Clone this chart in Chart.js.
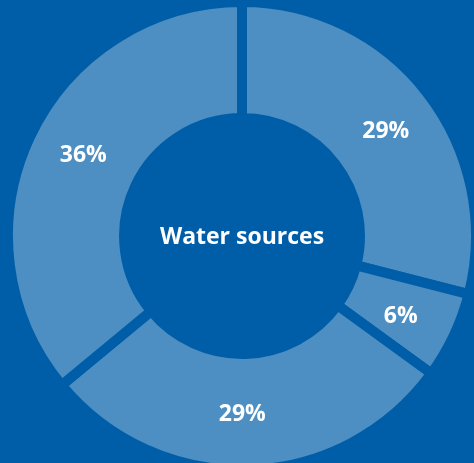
<!DOCTYPE html>
<html>
<head>
<meta charset="utf-8">
<style>
  html, body { margin: 0; padding: 0; background: #005ea8; }
  #wrap { width: 474px; height: 463px; }
</style>
<script src="https://cdn.jsdelivr.net/npm/chart.js@4/dist/chart.umd.min.js"></script>
</head>
<body>
<div id="wrap"><canvas id="waterChart" width="474" height="463"></canvas></div>
<script>
const categories = ['Source A', 'Source B', 'Source C', 'Source D'];
const shares = [29, 6, 29, 36]; // percent
const centerTitle = 'Water sources';

const bgColor = '#005ea8';
const sliceColor = '#4d8fc3';

// percent labels on each slice + title in the hole
const sliceLabels = {
    id: 'sliceLabels',
    afterDatasetsDraw(chart) {
        const ctx = chart.ctx;
        const meta = chart.getDatasetMeta(0);
        ctx.save();
        ctx.fillStyle = '#ffffff';
        ctx.textAlign = 'center';
        ctx.textBaseline = 'middle';
        ctx.font = 'bold 23px "Open Sans"';
        meta.data.forEach((arc, i) => {
            // a bit past the middle of the ring, nudged clockwise
            const mid = (arc.startAngle + arc.endAngle) / 2 + 0.03;
            const r = (arc.innerRadius + arc.outerRadius) / 2 + 2;
            ctx.fillText(shares[i] + '%', arc.x + Math.cos(mid) * r, arc.y + Math.sin(mid) * r);
        });
        const c = meta.data[0];
        ctx.fillText(centerTitle, c.x, c.y + 1);
        ctx.restore();
    }
};

const ctx = document.getElementById('waterChart').getContext('2d');
const waterChart = new Chart(ctx, {
    type: 'doughnut',
    data: {
        labels: categories,
        datasets: [{
            data: shares,
            backgroundColor: sliceColor,
            borderColor: bgColor,   // border in bg colour makes the gaps
            borderWidth: 10,
            borderJoinStyle: 'miter',
            hoverOffset: 0,
            clip: false
        }]
    },
    options: {
        responsive: false,
        animation: false,
        radius: 234,
        cutout: '50.4%',
        layout: { padding: { left: 10, top: 9, right: 0, bottom: 0 } },
        plugins: {
            legend: { display: false },
            tooltip: { enabled: false }
        }
    },
    plugins: [sliceLabels]
});
</script>
</body>
</html>
